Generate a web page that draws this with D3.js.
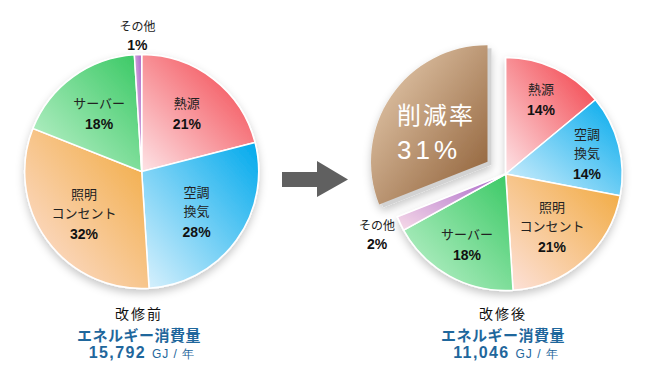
<!DOCTYPE html>
<html>
<head>
<meta charset="utf-8">
<script src="https://cdn.jsdelivr.net/npm/d3@7"></script>
<style>
  body { margin: 0; background: #fff; }
  svg { display: block; }
</style>
</head>
<body>
<div id="chart"></div>
<script>
var w = 648, h = 380;

// data
var categories = ["熱源", "空調換気", "照明コンセント", "サーバー", "その他"];
var labelLines = [["熱源"], ["空調", "換気"], ["照明", "コンセント"], ["サーバー"], ["その他"]];
var beforeValues = [21, 28, 32, 18, 1];
var afterValues = [14, 14, 21, 18, 2, 31];   // last = 削減率
var cutLabel = ["削減率", "31%"];
var titles = ["改修前", "改修後"];
var energyTitle = "エネルギー消費量";
var totals = ["15,792", "11,046"];
var unit = "GJ / 年";

// label radius (fraction of pie radius), per slice
var beforeLabelR = [0.63, 0.58, 0.61, 0.62, 1.16];
var afterLabelR = [0.71, 0.72, 0.6, 0.69, 1.22];

// colours: [saturated, pale]
var colors = [
  ["#f23a43", "#fde3e6"],
  ["#00a9ec", "#dcf2fd"],
  ["#f1a83a", "#fde2dc"],
  ["#38c863", "#c3f3d0"],
  ["#a865c9", "#f7dbe8"]
];
var cutColors = ["#ecd3b7", "#8c5c33"];

var jpFont = "'Noto Sans CJK JP', sans-serif";
var numFont = "'Liberation Sans', Arial, sans-serif";

var svg = d3.select("#chart").append("svg")
    .attr("width", w)
    .attr("height", h);

var defs = svg.append("defs");

colors.forEach(function (c, i) {
  var g = defs.append("linearGradient")
      .attr("id", "grad_" + i)
      .attr("x1", 1).attr("y1", 0).attr("x2", 0).attr("y2", 1);
  g.append("stop").attr("offset", "0%").attr("stop-color", c[0]);
  g.append("stop").attr("offset", "100%").attr("stop-color", c[1]);
});
var gc = defs.append("linearGradient")
    .attr("id", "grad_cut")
    .attr("x1", 0).attr("y1", 0).attr("x2", 1).attr("y2", 1);
gc.append("stop").attr("offset", "0%").attr("stop-color", cutColors[0]);
gc.append("stop").attr("offset", "100%").attr("stop-color", cutColors[1]);

var shadow = defs.append("filter")
    .attr("id", "shadow")
    .attr("x", "-20%").attr("y", "-20%").attr("width", "140%").attr("height", "140%");
shadow.append("feDropShadow")
    .attr("dx", 0).attr("dy", 4)
    .attr("stdDeviation", 4)
    .attr("flood-color", "#000")
    .attr("flood-opacity", 0.22);

var pie = d3.pie().sort(null).value(function (d) { return d; });

function drawPie(values, cx, cy, r, labelR) {
  var arc = d3.arc().innerRadius(0).outerRadius(r);
  var arcs = pie(values);
  var g = svg.append("g").attr("transform", "translate(" + cx + "," + cy + ")");

  var slices = g.append("g").attr("filter", "url(#shadow)");

  arcs.forEach(function (d, i) {
    if (i >= categories.length) {
      // 削減率: exploded with grey extrusion
      var mid = (d.startAngle + d.endAngle) / 2;
      var off = 22;
      var ox = Math.sin(mid) * off, oy = -Math.cos(mid) * off;
      slices.append("path")
          .attr("d", arc(d))
          .attr("transform", "translate(" + (ox + 4) + "," + (oy + 3) + ")")
          .attr("fill", "#d2d2d2");
      slices.append("path")
          .attr("d", arc(d))
          .attr("transform", "translate(" + ox + "," + oy + ")")
          .attr("fill", "url(#grad_cut)");
      var c = d3.arc().innerRadius(0).outerRadius(2 * 72).centroid(d);
      var tx = c[0] + ox - 31, ty = c[1] + oy;
      var ct = g.append("text")
          .attr("x", tx).attr("y", ty + 3)
          .attr("fill", "#fff");
      ct.append("tspan")
          .attr("x", tx)
          .attr("font-family", jpFont)
          .attr("font-size", 24)
          .attr("letter-spacing", 2)
          .text(cutLabel[0]);
      ct.append("tspan")
          .attr("x", tx).attr("dy", 35)
          .attr("font-family", numFont)
          .attr("font-size", 26)
          .attr("letter-spacing", 4)
          .text(cutLabel[1]);
      return;
    }
    slices.append("path")
        .attr("d", arc(d))
        .attr("fill", "url(#grad_" + i + ")")
        .attr("stroke", "#fff")
        .attr("stroke-width", 1.5);
  });

  // labels: one text per slice, lines as tspans
  arcs.forEach(function (d, i) {
    if (i >= categories.length) return;
    var lines = labelLines[i];
    var outside = labelR[i] > 1;
    var lr = r * labelR[i];
    var c = d3.arc().innerRadius(0).outerRadius(2 * lr).centroid(d);
    var fs = outside ? 12 : 13;
    var lineH = 19;
    var blockH = (lines.length - 1) * lineH + 20;
    var y0 = c[1] - blockH / 2 + 5;
    var t = g.append("text")
        .attr("x", c[0]).attr("y", y0)
        .attr("text-anchor", "middle");
    lines.forEach(function (l, k) {
      t.append("tspan")
          .attr("x", c[0]).attr("dy", k === 0 ? 0 : lineH)
          .attr("font-family", jpFont)
          .attr("font-size", fs)
          .attr("fill", "#222")
          .text(l);
    });
    t.append("tspan")
        .attr("x", c[0]).attr("dy", outside ? 19 : 21)
        .attr("font-family", numFont)
        .attr("font-weight", "bold")
        .attr("font-size", 14)
        .attr("fill", "#111")
        .text(d.value + "%");
  });
}

drawPie(beforeValues, 141.7, 171.5, 117, beforeLabelR);
drawPie(afterValues, 505.7, 174, 116.5, afterLabelR);

// arrow
svg.append("polygon")
    .attr("points", "282,172 317,172 317,161 348,179.5 317,197 317,187 282,187")
    .attr("fill", "#606060");

// captions
function caption(cx, i) {
  svg.append("text")
      .attr("x", cx).attr("y", 318.5)
      .attr("text-anchor", "middle")
      .attr("font-family", jpFont)
      .attr("font-size", 14)
      .attr("letter-spacing", 2)
      .attr("fill", "#111")
      .text(titles[i]);
  svg.append("text")
      .attr("x", cx).attr("y", 340.5)
      .attr("text-anchor", "middle")
      .attr("font-family", jpFont)
      .attr("font-weight", "bold")
      .attr("font-size", 15)
      .attr("letter-spacing", 0.5)
      .attr("fill", "#1f679c")
      .text(energyTitle);
  var t = svg.append("text")
      .attr("x", cx + 3).attr("y", 357.5)
      .attr("text-anchor", "middle")
      .attr("fill", "#1f679c");
  t.append("tspan")
      .attr("font-family", numFont)
      .attr("font-weight", "bold")
      .attr("font-size", 16)
      .attr("letter-spacing", 1.4)
      .text(totals[i] + " ");
  t.append("tspan")
      .attr("font-family", numFont)
      .attr("font-size", 12)
      .attr("letter-spacing", 1)
      .text(unit);
}
caption(139, 0);
caption(503, 1);
</script>
</body>
</html>
